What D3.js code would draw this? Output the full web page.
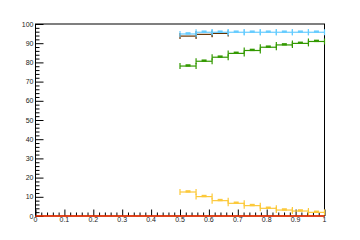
<!DOCTYPE html>
<html>
<head>
<meta charset="utf-8">
<script src="https://cdn.jsdelivr.net/npm/d3@7"></script>
<style>
  body { margin: 0; background: #fff; }
  text { font-family: "Liberation Sans", Arial, sans-serif; font-size: 7px; fill: #222; }
</style>
</head>
<body>
<div id="chart"></div>
<script>
// bin edges shared by the histograms (9 bins, 0.5 -> 1)
const binEdges = [0.5, 0.5556, 0.6111, 0.6667, 0.7222, 0.7778, 0.8333, 0.8889, 0.9444, 1.0];
const blueVals = [94.8, 95.7, 95.7, 95.7, 95.7, 95.7, 95.7, 95.7, 95.7];
const brownVals = [93.7, 94.6, 95.1];
const greenVals = [78.1, 80.6, 82.7, 84.7, 86.2, 87.9, 89.1, 89.9, 90.9];
const yellowVals = [12.5, 10.1, 8.0, 6.6, 5.4, 4.0, 3.1, 2.6, 1.9];
const redEdges = [0, 1];
const redVals = [0];
const xTicks = [0, 0.1, 0.2, 0.3, 0.4, 0.5, 0.6, 0.7, 0.8, 0.9, 1];
const yTicks = [0, 10, 20, 30, 40, 50, 60, 70, 80, 90, 100];

const W = 360, H = 240;
const x = d3.scaleLinear().domain([0, 1]).range([35.5, 324.5]);
const y = d3.scaleLinear().domain([0, 100]).range([216, 24]);

const svg = d3.select("#chart").append("svg")
  .attr("width", W).attr("height", H);

// frame
svg.append("rect")
  .attr("x", x(0)).attr("y", y(100))
  .attr("width", x(1) - x(0)).attr("height", y(0) - y(100))
  .attr("fill", "none").attr("stroke", "#000").attr("stroke-width", 1);

// x axis ticks (inside, pointing up)
const xAxis = d3.axisTop(x).tickValues(d3.range(0, 1.0001, 0.02)).tickSize(3.5).tickFormat("");
svg.append("g").attr("transform", `translate(0,${y(0)})`).call(xAxis)
  .call(g => g.select(".domain").remove())
  .call(g => g.selectAll("line").attr("stroke", "#000")
    .attr("y2", d => (Math.abs(d * 10 - Math.round(d * 10)) < 1e-6) ? -6.5 : -3.5));
svg.append("g").selectAll("text").data(xTicks).join("text")
  .attr("x", d => x(d)).attr("y", 222)
  .attr("text-anchor", "middle")
  .text(d => d3.format("~g")(d));

// y axis ticks (inside, pointing right)
const yAxis = d3.axisRight(y).tickValues(d3.range(0, 100.01, 2)).tickSize(4).tickFormat("");
svg.append("g").attr("transform", `translate(${x(0)},0)`).call(yAxis)
  .call(g => g.select(".domain").remove())
  .call(g => g.selectAll("line").attr("stroke", "#000")
    .attr("x2", d => (d % 10 === 0) ? 8 : 4));
svg.append("g").selectAll("text").data(yTicks).join("text")
  .attr("x", 33.5).attr("y", d => y(d) + 2.5)
  .attr("text-anchor", "end")
  .text(d => d);

// draw one histogram as horizontal bars with end caps and markers
function drawHist(edges, vals, color, withMarkers) {
  const g = svg.append("g").attr("stroke", color).attr("stroke-width", 1.2);
  const bins = vals.map((v, i) => ({ lo: edges[i], hi: edges[i + 1], v }));
  g.selectAll(".h").data(bins).join("line")
    .attr("x1", d => x(d.lo)).attr("x2", d => x(d.hi))
    .attr("y1", d => y(d.v)).attr("y2", d => y(d.v));
  const caps = bins.flatMap(d => [{ px: d.lo, v: d.v }, { px: d.hi, v: d.v }]);
  g.selectAll(".c").data(caps).join("line")
    .attr("x1", d => x(d.px)).attr("x2", d => x(d.px))
    .attr("y1", d => y(d.v) - 3).attr("y2", d => y(d.v) + 3);
  if (withMarkers) {
    svg.append("g").selectAll("rect").data(bins).join("rect")
      .attr("x", d => x((d.lo + d.hi) / 2) - 2.5)
      .attr("y", d => y(d.v) - 1.8)
      .attr("width", 5).attr("height", 2.4)
      .attr("fill", color);
  }
}

drawHist(binEdges, yellowVals, "#fcc93a", true);
drawHist(binEdges, greenVals, "#339900", true);
drawHist(binEdges, brownVals, "#663300", false);
drawHist(binEdges, blueVals, "#66ccff", true);

// red zero line along the axis
svg.append("g").selectAll("line").data(redVals).join("line")
  .attr("x1", x(redEdges[0])).attr("x2", x(redEdges[1]))
  .attr("y1", d => y(d)).attr("y2", d => y(d))
  .attr("stroke", "#ff3300").attr("stroke-width", 1.5);
</script>
</body>
</html>
